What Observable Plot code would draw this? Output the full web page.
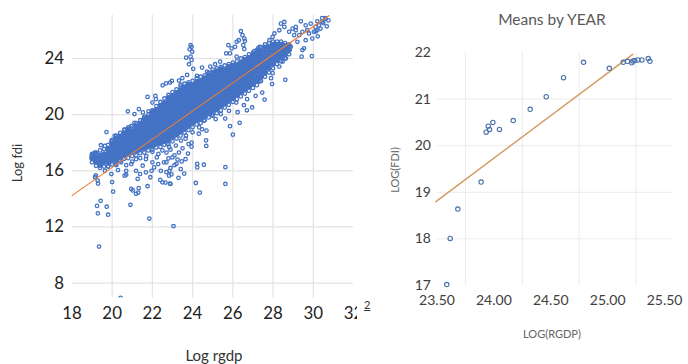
<!DOCTYPE html>
<html><head><meta charset="utf-8">
<script src="https://cdn.jsdelivr.net/npm/d3@7"></script>
<script src="https://cdn.jsdelivr.net/npm/@observablehq/plot@0.6"></script>
<style>
body{margin:0;background:#fff;}
#wrap{position:relative;width:688px;height:364px;overflow:hidden;font-family:Lato,"Open Sans",sans-serif;}
.abs{position:absolute;white-space:nowrap;line-height:1;}
</style></head><body>
<div id="wrap">
  <div id="left" class="abs" style="left:0;top:0;width:357px;height:364px;overflow:hidden"></div>
  <div id="right" class="abs" style="left:360px;top:0"></div>
  <div class="abs" style="left:17px;top:163px;transform:translate(-50%,-50%) rotate(-90deg);font-size:13px;color:#333">Log fdi</div>
  <div class="abs" style="left:214px;top:355px;transform:translate(-50%,-50%);font-size:15px;color:#333">Log rgdp</div>
  <div class="abs" style="left:552px;top:20px;transform:translate(-50%,-50%);font-size:15.5px;color:#595959">Means by YEAR</div>
  <div class="abs" style="left:394px;top:170px;transform:translate(-50%,-50%) rotate(-90deg);font-size:11px;color:#666">LOG(FDI)</div>
  <div class="abs" style="left:552px;top:333px;transform:translate(-50%,-50%);font-size:11px;color:#666">LOG(RGDP)</div>
  <div class="abs" style="left:364px;top:299px;font-size:11px;color:#333;text-decoration:underline">2</div>
</div>
<script>
// ---------- Left panel data ----------
const leftXTicks = [18, 20, 22, 24, 26, 28, 30, 32];
const leftYTicks = [8, 12, 16, 20, 24];
const leftXGrid = [20, 22, 24, 26, 28, 30];
const leftFitX = [18, 30.77];
const leftFitY = [14.23, 27.05];

// dense core of the cloud, read column by column
const coreX = [19.0,19.2,19.4,19.6,19.8,20.0,20.2,20.4,20.6,20.8,21.0,21.2,21.4,21.6,21.8,22.0,22.2,22.4,22.6,22.8,23.0,23.2,23.4,23.6,23.8,24.0,24.2,24.4,24.6,24.8,25.0,25.2,25.4,25.6,25.8,26.0,26.2,26.4,26.6,26.8,27.0,27.2,27.4,27.6,27.8,28.0,28.2,28.4,28.6,28.8];
const coreY = [
 [16.6,16.9,17.2],
 [16.35,16.65,16.95,17.3],
 [16.2,16.5,16.8,17.1,17.45],
 [16.3,16.6,16.9,17.2,17.55],
 [16.3,16.6,16.95,17.25,17.55,17.85],
 [16.45,16.75,17.05,17.35,17.65,17.95,18.2],
 [16.5,16.8,17.1,17.4,17.7,18.0,18.3,18.5],
 [16.7,17.0,17.3,17.6,17.9,18.2,18.45,18.7],
 [16.85,17.15,17.45,17.75,18.05,18.35,18.65,18.9],
 [16.9,17.2,17.5,17.8,18.1,18.4,18.7,18.95,19.1],
 [17.05,17.35,17.65,17.95,18.25,18.55,18.85,19.2],
 [17.1,17.4,17.7,18.0,18.3,18.6,18.9,19.15,19.4],
 [17.25,17.55,17.85,18.15,18.45,18.75,19.05,19.35,19.6],
 [17.3,17.6,17.9,18.2,18.5,18.8,19.1,19.4,19.7,19.85],
 [17.45,17.75,18.05,18.35,18.65,18.95,19.25,19.55,19.8,20.0],
 [17.5,17.8,18.1,18.4,18.7,19.0,19.3,19.6,19.9,20.2,20.3],
 [17.65,17.95,18.25,18.55,18.85,19.15,19.45,19.75,20.05,20.35,20.6],
 [17.7,18.0,18.3,18.6,18.9,19.2,19.5,19.8,20.1,20.4,20.65,20.9],
 [17.85,18.15,18.45,18.75,19.05,19.35,19.65,19.95,20.25,20.55,20.85,21.15],
 [17.9,18.2,18.5,18.8,19.1,19.4,19.7,20.0,20.3,20.6,20.9,21.2,21.4],
 [18.1,18.4,18.7,19.0,19.3,19.6,19.9,20.2,20.5,20.8,21.1,21.35,21.6],
 [18.3,18.6,18.9,19.2,19.5,19.8,20.1,20.4,20.7,21.0,21.3,21.55,21.8],
 [18.5,18.8,19.1,19.4,19.7,20.0,20.3,20.6,20.9,21.2,21.5,21.75,22.0],
 [18.7,19.0,19.3,19.6,19.9,20.2,20.5,20.8,21.1,21.4,21.7,21.95,22.2],
 [18.9,19.2,19.5,19.8,20.1,20.4,20.7,21.0,21.3,21.6,21.9,22.15,22.3],
 [19.1,19.4,19.7,20.0,20.3,20.6,20.9,21.2,21.5,21.8,22.1,22.4],
 [19.3,19.6,19.9,20.2,20.5,20.8,21.1,21.4,21.7,22.0,22.3,22.6],
 [19.4,19.7,20.0,20.3,20.6,20.9,21.2,21.5,21.8,22.1,22.4,22.7],
 [19.6,19.9,20.2,20.5,20.8,21.1,21.4,21.7,22.0,22.3,22.6,22.8],
 [19.8,20.1,20.4,20.7,21.0,21.3,21.6,21.9,22.2,22.5,22.8,23.0],
 [20.0,20.3,20.6,20.9,21.2,21.5,21.8,22.1,22.4,22.7,23.0,23.2],
 [20.1,20.4,20.7,21.0,21.3,21.6,21.9,22.2,22.5,22.8,23.1,23.3],
 [20.3,20.6,20.9,21.2,21.5,21.8,22.1,22.4,22.7,23.0,23.25,23.4],
 [20.5,20.8,21.1,21.4,21.7,22.0,22.3,22.6,22.9,23.2,23.5],
 [20.7,21.0,21.3,21.6,21.9,22.2,22.5,22.8,23.1,23.4,23.6],
 [20.9,21.2,21.5,21.8,22.1,22.4,22.7,23.0,23.3,23.5,23.7],
 [21.1,21.4,21.7,22.0,22.3,22.6,22.9,23.2,23.5,23.8],
 [21.3,21.6,21.9,22.2,22.5,22.8,23.1,23.4,23.7,24.0],
 [21.5,21.8,22.1,22.4,22.7,23.0,23.3,23.6,23.9,24.1],
 [21.7,22.0,22.3,22.6,22.9,23.2,23.5,23.8,24.05,24.3],
 [21.9,22.2,22.5,22.8,23.1,23.4,23.7,24.0,24.25,24.4],
 [22.1,22.4,22.7,23.0,23.3,23.6,23.9,24.2,24.45,24.6],
 [22.4,22.7,23.0,23.3,23.6,23.9,24.2,24.5,24.8],
 [22.7,23.0,23.3,23.6,23.9,24.2,24.5,24.8,25.0],
 [23.0,23.3,23.6,23.9,24.2,24.5,24.8,25.1],
 [23.3,23.6,23.9,24.2,24.5,24.8,25.0,25.2],
 [23.6,23.9,24.2,24.5,24.8,25.0,25.2],
 [23.8,24.1,24.4,24.7,25.0,25.2],
 [24.0,24.3,24.6,24.9,25.1],
 [24.3,24.6,24.85,25.0]
];

// scattered open markers around the core and outliers
const ringPts = [
 [19.02,17.14],[19.10,16.95],[19.14,17.30],[19.06,16.83],[18.98,17.07],[19.23,17.18],
 [19.15,15.54],[19.19,15.67],[19.28,15.30],[19.30,15.09],[19.39,16.36],[19.64,16.00],
 [19.80,16.31],[19.96,15.77],[19.43,13.86],[19.25,13.50],[19.73,13.44],[19.29,12.97],
 [19.80,12.87],[19.35,10.60],[20.00,15.20],[20.05,14.52],[20.91,13.58],[20.95,14.71],
 [21.03,14.60],[21.19,14.36],[21.32,14.76],[21.30,14.45],[21.76,14.90],[21.85,12.60],
 [20.42,6.95],[23.05,12.05],[21.27,15.42],[20.62,15.65],[20.70,15.72],[21.39,15.77],
 [21.90,15.54],[22.39,15.35],[22.50,15.18],[21.96,16.00],[22.09,16.24],[22.42,16.00],
 [21.52,16.36],[20.95,16.48],[20.29,16.05],[20.21,16.41],[20.45,16.60],[20.70,16.00],
 [21.19,16.00],[21.68,15.89],[22.00,16.60],[22.29,16.48],[22.58,16.60],[22.22,16.95],
 [21.68,16.83],[21.19,16.83],[22.65,15.16],[22.90,15.06],[23.30,15.50],[23.58,15.80],
 [24.16,15.13],[24.36,14.45],[24.23,16.24],[24.56,16.43],[24.23,16.50],[25.63,16.26],
 [25.63,15.06],[22.87,15.09],[22.83,15.65],[23.41,16.12],[23.46,16.67],[23.00,16.95],
 [22.80,16.88],[23.32,17.30],[23.65,16.83],[23.77,17.23],[23.65,18.29],[23.95,18.00],
 [23.95,17.72],[24.67,18.17],[24.68,17.77],[24.47,18.95],[24.31,18.64],[25.62,19.72],
 [26.34,19.42],[25.86,19.18],[26.00,18.57],[26.24,20.17],[26.70,20.31],[25.15,19.68],
 [24.69,18.86],[26.55,20.67],[26.96,20.51],[27.13,21.33],[27.46,21.57],[26.71,21.10],
 [26.17,20.86],[25.81,20.27],[25.40,20.04],[24.99,19.92],[24.57,19.57],[24.33,19.09],
 [24.00,18.74],[23.67,18.50],[23.42,18.15],[23.17,17.80],[22.84,17.68],[22.50,17.45],
 [22.30,17.20],[22.00,17.35],[21.70,17.05],[21.40,16.90],[21.00,16.65],[20.70,16.40],
 [22.70,17.30],[22.90,17.50],[23.10,17.10],[22.70,16.60],[22.90,16.20],[23.20,16.50],
 [23.50,17.60],[23.80,17.90],[22.70,15.90],[22.85,16.00],[22.95,15.75],[23.10,16.40],
 [23.25,16.80],[22.75,17.90],
 [27.58,21.07],[27.33,22.36],[27.95,22.18],[27.90,22.60],[27.98,22.95],[28.61,22.48],
 [28.31,23.42],[28.48,23.78],[27.33,23.54],[28.64,24.01],
 [19.72,18.76],[19.44,17.82],[19.64,17.77],[19.96,18.12],[20.13,18.48],[20.62,18.95],
 [20.95,19.18],[20.78,20.24],[21.52,19.54],[21.11,19.42],[21.93,19.89],[21.81,20.24],
 [21.11,20.04],[21.33,20.39],[21.53,20.16],[22.00,20.86],[22.18,21.10],[21.76,21.26],
 [22.15,21.33],[22.51,22.09],[22.68,22.23],[22.88,22.28],[22.97,22.40],[23.32,22.43],
 [23.41,22.13],[23.49,22.60],[23.73,22.83],[24.22,22.76],[23.68,24.06],[23.90,24.13],
 [23.85,24.65],[23.90,24.95],[23.95,24.83],[23.98,24.48],[23.95,23.90],[23.82,23.59],
 [24.03,23.26],[24.47,23.35],[24.72,23.07],[25.12,23.59],[24.88,23.42],[25.37,23.78],
 [25.67,24.36],[25.86,24.36],[25.78,24.95],[25.94,24.72],[26.11,24.83],[26.19,25.19],
 [26.30,25.30],[26.40,25.94],[26.48,25.66],[26.57,25.42],[26.60,25.24],[26.52,24.95],
 [26.57,24.67],[26.19,24.13],[27.06,24.53],[27.25,24.72],[27.33,24.83],[27.82,25.30],
 [27.98,25.54],[28.07,25.78],[28.31,26.01],[28.39,26.48],[28.56,26.60],[28.56,26.25],
 [28.80,25.90],[28.97,26.13],[29.13,26.25],[29.13,26.01],[29.38,26.65],[29.62,26.36],
 [29.70,26.01],[29.87,26.48],[30.11,26.25],[30.20,26.65],[30.28,26.36],[30.36,26.13],
 [30.44,26.88],[30.44,26.60],[30.60,26.83],[30.03,25.90],[30.20,26.01],[29.95,25.42],
 [29.62,25.30],[29.54,24.72],[29.46,24.60],[29.42,24.13],[29.79,25.78],[29.30,25.66],
 [29.05,25.66],[29.46,25.90],[29.21,25.19],[28.72,24.48],[28.88,24.83],[30.12,25.93],
 [30.22,25.58],[30.50,26.52],[30.67,26.29],[30.75,26.71],[30.59,26.88],[29.93,24.17]
];

// ---------- Right panel data ----------
const meanX = [23.586,23.616,23.683,23.888,23.932,23.950,23.962,23.991,24.049,24.170,24.319,24.460,24.612,24.788,25.014,25.137,25.175,25.213,25.222,25.239,25.266,25.301,25.357,25.371];
const meanY = [17.02,18.01,18.64,19.22,20.29,20.42,20.35,20.50,20.35,20.54,20.78,21.05,21.46,21.79,21.66,21.79,21.81,21.78,21.82,21.83,21.84,21.84,21.87,21.81];
const rightXTicks = [23.5, 24.0, 24.5, 25.0, 25.5];
const rightYTicks = [17, 18, 19, 20, 21, 22];
const rightXGrid = [23.75, 24.25, 24.75, 25.25];
const rightYGrid = [18, 19, 20, 21];
const rightFitX = [23.49, 25.22];
const rightFitY = [18.80, 21.96];

// ---------- build ----------
const blue = "#4472c4";
// interior of each core column is solid; the outer point of each column is an open marker
const coreFill = [], coreEdge = [];
coreX.forEach((x, i) => {
  const ys = coreY[i];
  ys.forEach((y, j) => {
    if (j === 0 || j === ys.length - 1) coreEdge.push({x, y});
    else coreFill.push({x, y});
  });
});
const rings = ringPts.map(([x, y]) => ({x, y})).concat(coreEdge);
const fitL = leftFitX.map((x, i) => ({x, y: leftFitY[i]}));

const left = Plot.plot({
  width: 360, height: 364,
  marginLeft: 72, marginRight: 4, marginTop: 15, marginBottom: 64,
  style: {fontFamily: "Lato, sans-serif", fontSize: "17px", color: "#222", background: "transparent"},
  x: {domain: [18, 32], ticks: leftXTicks, tickSize: 0, tickPadding: 9, label: null, tickFormat: d => String(d)},
  y: {domain: [6.94, 27.07], ticks: leftYTicks, tickSize: 0, tickPadding: 8, label: null, tickFormat: d => String(d)},
  marks: [
    Plot.ruleX(leftXGrid, {stroke: "#e3e3e3", strokeWidth: 1.2}),
    Plot.ruleY(leftYTicks, {stroke: "#e3e3e3", strokeWidth: 1.2}),
    Plot.dot(coreFill, {x: "x", y: "y", r: 2.8, fill: blue, stroke: "none", clip: true}),
    Plot.dot(rings, {x: "x", y: "y", r: 1.75, fill: "none", stroke: blue, strokeWidth: 1.3, clip: true}),
    Plot.line(fitL, {x: "x", y: "y", stroke: "#ed7d31", strokeWidth: 1.2, clip: true})
  ]
});
document.getElementById("left").appendChild(left);

const means = meanX.map((x, i) => ({x, y: meanY[i]}));
const fitR = rightFitX.map((x, i) => ({x, y: rightFitY[i]}));
const right = Plot.plot({
  width: 328, height: 364,
  marginLeft: 76.5, marginRight: 16, marginTop: 52, marginBottom: 79,
  style: {fontFamily: "Lato, sans-serif", fontSize: "14px", color: "#404040", background: "transparent"},
  x: {domain: [23.5, 25.57], ticks: rightXTicks, tickSize: 0, tickPadding: 10, label: null, tickFormat: d3.format(".2f")},
  y: {domain: [17, 22], ticks: rightYTicks, tickSize: 0, tickPadding: 6, label: null, tickFormat: d => String(d)},
  marks: [
    Plot.ruleX(rightXGrid, {stroke: "#ececec", strokeWidth: 1}),
    Plot.ruleY(rightYGrid, {stroke: "#ececec", strokeWidth: 1}),
    Plot.line(fitR, {x: "x", y: "y", stroke: "#d49c5e", strokeWidth: 1.5}),
    Plot.dot(means, {x: "x", y: "y", r: 2.2, fill: "none", stroke: "#4a70aa", strokeWidth: 1.1})
  ]
});
document.getElementById("right").appendChild(right);
</script>
</body></html>
